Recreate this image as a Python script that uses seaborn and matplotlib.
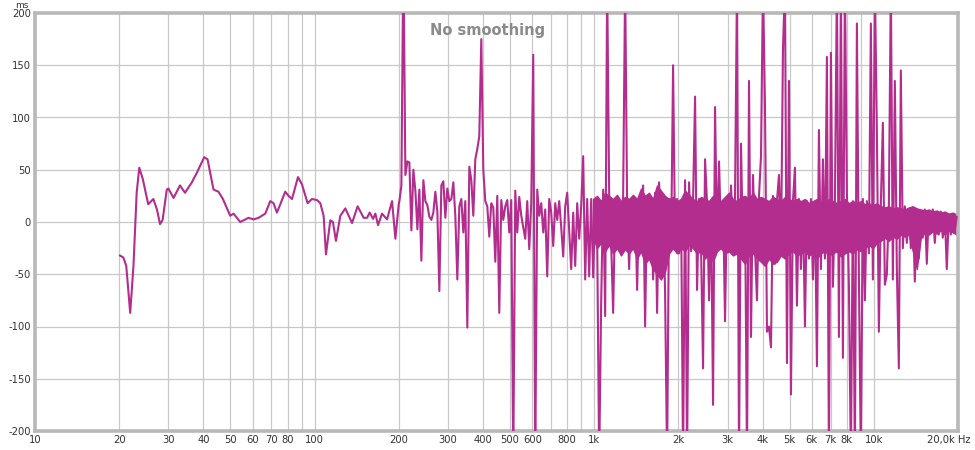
import numpy as np
import pandas as pd
import matplotlib
matplotlib.use("Agg")
import matplotlib.pyplot as plt
import matplotlib.transforms as mtransforms
import seaborn as sns
from matplotlib.ticker import FixedLocator, NullFormatter

# %% data
# smooth low-frequency part (Hz, ms)
low_freq = [20.1, 20.7, 21.2, 21.9, 22.5, 23.1, 23.6, 24.3, 25.4, 26.5, 27.3, 28.0, 28.6,
            29.6, 30.0, 31.3, 33.0, 34.4, 36.4, 37.9, 40.3, 41.4, 43.5, 45.3, 47.0, 49.9,
            51.3, 54.2, 58.0, 60.5, 63.0, 66.6, 69.4, 71.3, 73.3, 75.4, 78.5, 80.7, 83.0,
            87.2, 90.1, 94.4, 97.8, 102, 104.8, 107.7, 109.8, 113.8, 116.3, 119.2, 123.6,
            128.8, 136.1, 142.5, 149.8, 154.0, 157.4, 161.8, 164.9, 168.6, 174.2, 181.6,
            189.2, 194.5, 199.9]
low_gd = [-32, -34, -42, -87, -42, 28, 52, 41, 17, 22, 12, -2, 2,
          31, 32, 23, 35, 28, 38, 47, 62, 60, 31, 29, 22, 6,
          8, 0, 4, 2.5, 4, 8, 20, 18, 9, 17, 29, 25, 22,
          43, 36, 18, 22, 21, 18, 6, -31, 1.6, 0, -18, 6,
          13, -1, 15, 4, 4, 9, 3, 8, -3, 8, 2.5,
          20, -16, 17]

# unsmoothed part, log spaced points from 201 Hz to 19.8 kHz (ms)
hi_start, hi_stop = 201, 19800
hi_gd = [
    20, 35, 260, 45, 58, 57, -8, 50, 30, -7,
    31, -37, 40, 20, 16, 5, 2, 9, 29, 10,
    -66, 35, 39, 4, 32, 20, 22, 38, 6, -55,
    15, 22, -10, 20, -101, 53, 40, 6, 60, 70,
    82, 175, 50, 20, 15, -14, 18, 14, -38, 25,
    -87, 21, 2, 15, 21, -10, 21, -230, 30, -10,
    24, 6, -5, -16, 20, -26, 18, 160, -230, 31,
    6, 18, -10, 12, -52, 22, 9, -23, 18, 2,
    20, -5, -33, 15, 28, -8, -45, 9, -42, 18,
    -16, 15, 63, -55, 22, -52, 22, -53, 18, -15,
    -230, -77, 31, -90, 230, 28, -20, -87, 15, -13,
    22, -15, 25, 230, 15, -45, 22, -25, 20, -65,
    20, -20, 35, -100, 25, -30, 20, -55, 28, -87,
    38, -20, 25, -68, -230, 22, -25, 150, -20, 22,
    -30, 15, -230, 40, -230, 38, -28, 20, 120, -65,
    22, -25, -140, 60, 18, -75, 20, -175, 110, -20,
    58, -15, 20, -95, 22, -28, 35, -20, 25, 230,
    -230, 75, -30, 20, -230, 135, -110, 45, -25, -75,
    25, 63, 230, 110, -105, -100, -120, 25, -40, 20,
    45, -30, 165, 230, -135, 135, -165, 20, 52, -80,
    22, -45, 18, -100, 20, -35, 22, -55, 18, -138,
    88, -45, 60, -35, 158, -230, 162, -62, 20, 230,
    -110, 230, -130, 230, 28, -60, -230, 20, -230, 190,
    -50, -230, 22, -75, 20, -30, 190, -55, 230, 88,
    -105, 18, 95, -60, -50, 15, 230, -55, 135, -45,
    -140, 145, -25, 15, -20, 12, -25, 14, -57, 12,
    -35, 10, -15, 12, -40, 10, -10, 12, -20, 8,
    -12, 10, -15, 8, -45, 6, -12, 7, -8, 5,
]

# dense band of the unsmoothed trace above 1 kHz: upper / lower edge (ms)
band_start, band_stop = 990, 19800
band_top = [22, 25, 20, 28, 25, 22, 26, 20, 24, 22, 26, 22, 32, 25, 28, 22, 35, 30, 25, 22,
            24, 20, 22, 30, 26, 22, 20, 24, 22, 20, 25, 22, 20, 24, 28, 22, 20, 24, 25, 22,
            28, 22, 24, 22, 20, 24, 22, 20, 24, 22, 20, 22, 20, 22, 18, 20, 22, 20, 18, 22,
            20, 18, 20, 22, 18, 20, 18, 20, 17, 18, 16, 18, 15, 14, 15, 13, 14, 13, 12, 14,
            15, 13, 12, 11, 12, 10, 11, 9, 10, 8, 9, 7]
band_bot = [-15, -25, -20, -28, -22, -30, -25, -32, -26, -30, -25, -35, -28, -40, -35, -45,
            -50, -55, -48, -30, -25, -30, -25, -28, -22, -25, -30, -28, -35, -30, -38, -28,
            -25, -30, -28, -32, -30, -35, -40, -32, -30, -35, -38, -42, -35, -40, -38, -32,
            -35, -30, -28, -32, -30, -28, -32, -30, -35, -30, -28, -32, -30, -28, -33, -30,
            -28, -30, -26, -28, -25, -22, -25, -20, -18, -15, -18, -14, -16, -12, -14, -12,
            -28, -45, -15, -10, -12, -9, -11, -8, -12, -8, -10, -12]

x_ticks = [10, 20, 30, 40, 50, 60, 70, 80, 100, 200, 300, 400, 500, 600, 800,
           1000, 2000, 3000, 4000, 5000, 6000, 7000, 8000, 10000, 20000]
x_labels = ["10", "20", "30", "40", "50", "60", "70", "80", "100", "200", "300", "400",
            "500", "600", "800", "1k", "2k", "3k", "4k", "5k", "6k", "7k", "8k", "10k",
            "20,0k Hz"]
x_grid = [10, 20, 30, 40, 50, 60, 70, 80, 90, 100, 200, 300, 400, 500, 600, 700, 800, 900,
          1000, 2000, 3000, 4000, 5000, 6000, 7000, 8000, 9000, 10000, 20000]
y_ticks = [-200, -150, -100, -50, 0, 50, 100, 150, 200]

# %% build frames
hi_freq = np.geomspace(hi_start, hi_stop, len(hi_gd))
df = pd.DataFrame({
    "Freq": list(low_freq) + list(hi_freq),
    "GD": list(low_gd) + list(hi_gd),
})
band = pd.DataFrame({
    "Freq": np.geomspace(band_start, band_stop, len(band_top)),
    "Top": band_top,
    "Bottom": band_bot,
})

# %% plot
sns.set_style("white")
plt.rcParams["font.family"] = ["DejaVu Sans"]
trace_col = "#b32d8e"

fig = plt.figure(figsize=(9.75, 4.5), dpi=100)
ax = fig.add_axes([35 / 975, 1 - 431 / 450, 923 / 975, 418 / 450])

ax.fill_between(band["Freq"], band["Bottom"], band["Top"], color=trace_col,
                edgecolor=trace_col, linewidth=1.0, zorder=2)
sns.lineplot(data=df, x="Freq", y="GD", ax=ax, sort=False, estimator=None,
             color=trace_col, linewidth=1.5, zorder=3)

ax.set_xscale("log")
ax.set_xlim(10, 20000)
ax.set_ylim(-200, 200)

ax.xaxis.set_major_locator(FixedLocator(x_ticks))
ax.set_xticklabels(x_labels)
ax.xaxis.set_minor_locator(FixedLocator(x_grid))
ax.xaxis.set_minor_formatter(NullFormatter())
ax.set_yticks(y_ticks)
ax.set_yticklabels([str(v) for v in y_ticks])

ax.grid(False)
for f in x_grid:
    ax.axvline(f, color="#c8c8c8", linewidth=0.9, zorder=0)
for v in y_ticks:
    ax.axhline(v, color="#c8c8c8", linewidth=0.9, zorder=0)

ax.tick_params(axis="both", which="both", length=0, labelsize=7.2, colors="#333333", pad=3)
ax.set_xlabel("")
ax.set_ylabel("")

# last label sits a bit left so it stays inside the picture
last = ax.get_xticklabels()[-1]
last.set_transform(last.get_transform() + mtransforms.ScaledTranslation(-9 / 100, 0, fig.dpi_scale_trans))

for s in ax.spines.values():
    s.set_color("#b8b8b8")
    s.set_linewidth(2.6)

ax.text(0.49, 0.975, "No smoothing", transform=ax.transAxes, ha="center", va="top",
        fontsize=10.5, fontweight="bold", color="#8a8a8a", zorder=5)
fig.text(22 / 975, 1 - 5 / 450, "ms", ha="center", va="center", fontsize=6.5, color="#333333")

fig.savefig("out.png", dpi=100)
